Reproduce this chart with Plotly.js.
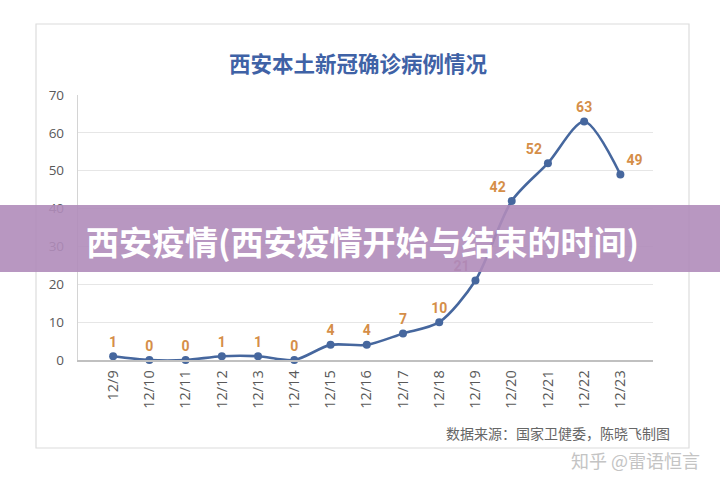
<!DOCTYPE html>
<html><head><meta charset="utf-8">
<script src="https://cdn.plot.ly/plotly-3.0.1.min.js"></script>
<style>html,body{margin:0;padding:0;background:#fff;}#chart{width:720px;height:490px;}</style>
</head><body><div id="chart"></div>
<script>
var categories = ['12/9','12/10','12/11','12/12','12/13','12/14','12/15','12/16','12/17','12/18','12/19','12/20','12/21','12/22','12/23'];
var cases = [1,0,0,1,1,0,4,4,7,10,21,42,52,63,49];
var yTicks = [0,10,20,30,40,50,60,70];
var chartTitle = '西安本土新冠确诊病例情况';
var bannerText = '西安疫情(西安疫情开始与结束的时间)';
var sourceText = '数据来源：国家卫健委，陈晓飞制图';
var watermark = '知乎 @雷语恒言';

var labelPos = ['top center','top center','top center','top center','top center','top center','top center','top center','top center','top center','top left','top left','top left','top center','top right'];
var labelColors = cases.map(function(v,i){ return i===10 ? '#b5707a' : '#d58e48'; });

var cjk = '"Noto Sans CJK SC", "Noto Sans", sans-serif';
var trace = {
  x: categories, y: cases, type: 'scatter', mode: 'lines+markers+text',
  line: {color: '#46679e', width: 2.6, shape: 'spline', smoothing: 0.8},
  marker: {color: '#46679e', size: 8},
  text: cases.map(String), textposition: labelPos,
  textfont: {family: 'Roboto, "Noto Sans", sans-serif', size: 14, color: labelColors, weight: 'bold'},
  cliponaxis: false, hoverinfo: 'x+y'
};
var layout = {
  width: 720, height: 490,
  margin: {l: 78, r: 67, t: 95, b: 130},
  paper_bgcolor: '#fff', plot_bgcolor: '#fff',
  showlegend: false,
  title: {text: '<b>' + chartTitle + '</b>', x: (358-78)/575, xref: 'paper', xanchor: 'center', y: 1 - 64/490, yanchor: 'middle',
          font: {family: cjk, size: 21.5, color: '#3f62a6'}},
  xaxis: {type: 'category', range: [-0.97, 14.9], tickangle: -90, showgrid: false,
          showline: true, linecolor: '#c0c0c0', linewidth: 1.5, ticks: '',
          tickfont: {family: '"Open Sans", "DejaVu Sans", sans-serif', size: 14.5, color: '#595959'}, ticklabelstandoff: 3},
  yaxis: {range: [0, 70], tickvals: yTicks, showgrid: true, gridcolor: '#e6e6e6', zeroline: false,
          showline: true, linecolor: '#d4d4d4', linewidth: 1.2, ticks: '',
          tickfont: {family: '"Open Sans", "DejaVu Sans", sans-serif', size: 13.5, color: '#595959'}, ticklabelstandoff: 10},
  shapes: [
    {type: 'rect', xref: 'paper', yref: 'paper', x0: (36-78)/575, x1: (689-78)/575, y0: (360-448)/265, y1: (360-24)/265,
     line: {color: '#dcdcdc', width: 1.2}, fillcolor: 'rgba(0,0,0,0)', layer: 'below'},
    {type: 'rect', xref: 'paper', yref: 'paper', x0: (0-78)/575, x1: (720-78)/575, y0: (360-272)/265, y1: (360-205)/265,
     line: {width: 0}, fillcolor: 'rgba(176,140,186,0.9)', layer: 'above'}
  ],
  annotations: [
    {text: '<b>' + bannerText + '</b>', xref: 'paper', yref: 'paper', x: (362-78)/575, y: (360-241)/265,
     showarrow: false, xanchor: 'center', yanchor: 'middle',
     font: {family: cjk, size: 33, color: '#ffffff'}},
    {text: sourceText, xref: 'paper', yref: 'paper', x: (672-78)/575, y: (360-433)/265,
     showarrow: false, xanchor: 'right', yanchor: 'middle',
     font: {family: cjk, size: 14, color: '#666666'}},
    {text: watermark, xref: 'paper', yref: 'paper', x: (702-78)/575, y: (360-460)/265,
     showarrow: false, xanchor: 'right', yanchor: 'middle',
     font: {family: cjk, size: 18, color: '#c4c4c4'}}
  ]
};
Plotly.newPlot('chart', [trace], layout, {displayModeBar: false, staticPlot: true});
</script></body></html>
